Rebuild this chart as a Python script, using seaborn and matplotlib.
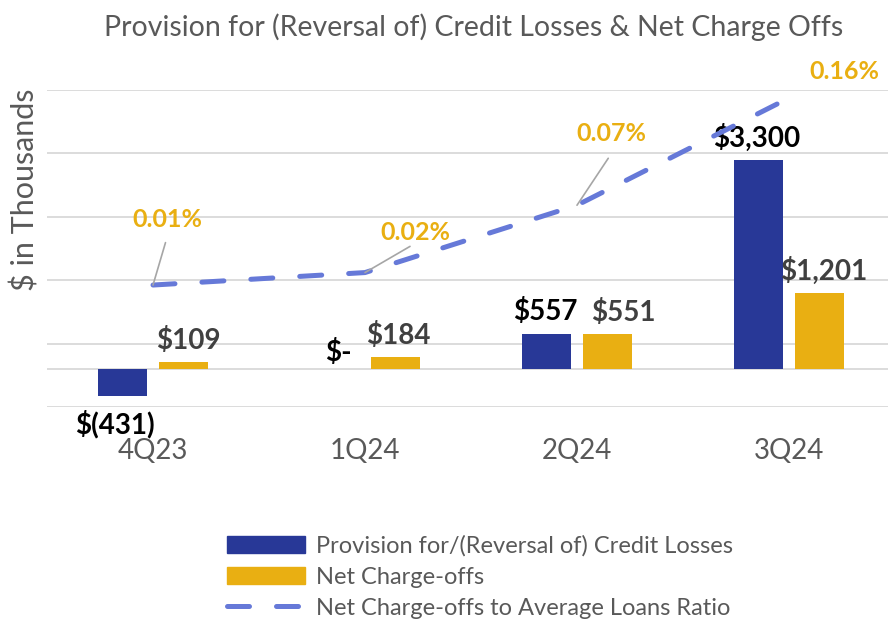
import numpy as np
import pandas as pd
import matplotlib
matplotlib.use("Agg")
import matplotlib.pyplot as plt
from matplotlib.patches import Patch
from matplotlib.lines import Line2D
import seaborn as sns

# chart data
quarters = ["4Q23", "1Q24", "2Q24", "3Q24"]
provision = [-431, 0, 557, 3300]
net_charge_offs = [109, 184, 551, 1201]
nco_ratio = [0.010, 0.020, 0.074, 0.160]  # percent

series_names = ["Provision for/(Reversal of) Credit Losses", "Net Charge-offs"]
ratio_name = "Net Charge-offs to Average Loans Ratio"

BLUE = "#283897"
GOLD = "#E9AF12"
LINE = "#6679D8"
GRAY = "#595959"

sns.set_style("white")
plt.rcParams["font.family"] = ["Lato", "DejaVu Sans"]

df = pd.DataFrame({
    "quarter": quarters * 2,
    "value": provision + net_charge_offs,
    "series": [series_names[0]] * 4 + [series_names[1]] * 4,
})

fig = plt.figure(figsize=(8.88, 6.21), dpi=100)
ax = fig.add_axes([47 / 888, 1 - 407 / 621, 848 / 888, 317 / 621])

sns.barplot(data=df, x="quarter", y="value", hue="series", order=quarters,
            hue_order=series_names, palette=[BLUE, GOLD], width=0.58, gap=0.2,
            saturation=1, linewidth=0, ax=ax, legend=False, zorder=2)

ax.set_xlim(-0.5, 3.5)
ax.set_ylim(-600, 4400)
ax.set_yticks(np.arange(-600, 4401, 1000))
ax.set_yticklabels([])
ax.grid(axis="y", color="#D9D9D9", lw=1.3, zorder=0)
ax.axhline(0, color="#D9D9D9", lw=1.3, zorder=1)
ax.set_axisbelow(True)
for s in ax.spines.values():
    s.set_visible(False)
ax.tick_params(axis="both", length=0)
ax.tick_params(axis="x", pad=22, labelsize=20, labelcolor=GRAY)
ax.set_xlabel("")
ax.set_ylabel("")

# bar value labels
x = np.arange(len(quarters))
off = 0.145
for i, v in enumerate(provision):
    if v == 0:
        txt = "$-"
    elif v < 0:
        txt = f"$({abs(v):,})"
    else:
        txt = f"${v:,}"
    if v < 0:
        ax.annotate(txt, (x[i] - off, v), xytext=(-5, -10), textcoords="offset points",
                    ha="center", va="top", fontsize=20, fontweight="bold", color="black")
    else:
        dx, dy = (3, 2) if v == 0 else (-1, 6)
        ax.annotate(txt, (x[i] - off, v), xytext=(dx, dy), textcoords="offset points",
                    ha="center", va="bottom", fontsize=20, fontweight="bold", color="black")
nco_dx = [3, 2, 11, 3]
for i, v in enumerate(net_charge_offs):
    ax.annotate(f"${v:,}", (x[i] + off, v), xytext=(nco_dx[i], 6), textcoords="offset points",
                ha="center", va="bottom", fontsize=20, fontweight="bold", color="#404040")

# ratio line on a secondary axis
ax2 = ax.twinx()
ax2.set_ylim(-0.0878, 0.1664)
ax2.plot(x, nco_ratio, color=LINE, lw=3.6, dashes=(4.4, 5.4),
         dash_capstyle="round", zorder=3)
ax2.set_yticks([])
for s in ax2.spines.values():
    s.set_visible(False)

lab_off = [(10, 47), (36, 29), (25, 52), (40, 19)]
for i, v in enumerate(nco_ratio):
    dx, dy = lab_off[i]
    ax2.annotate(f"{v:.2f}%", (x[i], v), xytext=(dx, dy), textcoords="offset points",
                 ha="center", va="center", fontsize=18, fontweight="bold", color=GOLD,
                 annotation_clip=False)
    if i < 3:
        ax2.annotate("", (x[i], v), xytext=(dx * 0.9, dy * 0.65), textcoords="offset points",
                     arrowprops=dict(arrowstyle="-", color="#A6A6A6", lw=1.2,
                                     shrinkA=0, shrinkB=0))

fig.text(474 / 888, 1 - 27 / 621, "Provision for (Reversal of) Credit Losses & Net Charge Offs",
         ha="center", va="center", fontsize=20.5, color=GRAY)
fig.text(25 / 888, 1 - 190 / 621, "$ in Thousands", rotation=90,
         ha="center", va="center", fontsize=22, color=GRAY)

handles = [Patch(color=BLUE), Patch(color=GOLD),
           Line2D([], [], color=LINE, lw=3.6, dashes=(4.4, 5.4), dash_capstyle="round")]
fig.legend(handles, series_names + [ratio_name], loc="center left",
           bbox_to_anchor=(227 / 888, 1 - 577 / 621), frameon=False, fontsize=17,
           labelcolor=GRAY, handlelength=3.3, handleheight=0.75, labelspacing=0.42,
           handletextpad=0.45, borderpad=0, borderaxespad=0)

fig.savefig("out.png", dpi=100)
